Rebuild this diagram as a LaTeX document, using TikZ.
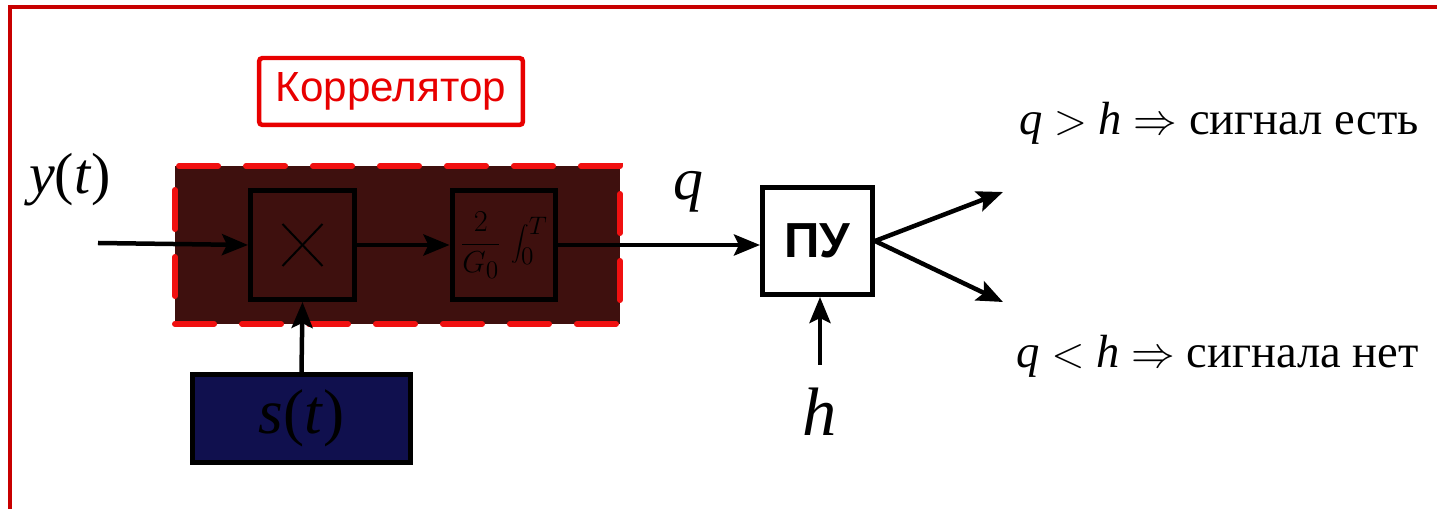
\documentclass[tikz,border=0pt]{standalone}
\usepackage{fontspec}
\setmainfont{Liberation Serif}
\setsansfont{Liberation Sans}
\definecolor{frred}{RGB}{200,0,0}
\definecolor{korred}{RGB}{232,0,0}
\definecolor{dashred}{RGB}{240,16,16}
\definecolor{corrfill}{RGB}{62,16,14}
\definecolor{refblue}{RGB}{16,16,78}
\usetikzlibrary{arrows.meta}

\begin{document}
\begin{tikzpicture}[x=0.02cm,y=-0.02cm,
  block/.style={draw,line width=0.1cm,minimum width=2.08cm,minimum height=2.18cm,inner sep=0pt},
  conn/.style={line width=0.09cm,-{Stealth[length=0.52cm,width=0.42cm,inset=0.1cm]}},
  bigtext/.style={font=\fontsize{26.5}{30}\selectfont}]
  \useasboundingbox (0,0) rectangle (1437,509);

  % Outer frame
  \draw[frred,line width=0.07cm] (10,509) -- (10,7) -- (1437,7);

  % Correlator
  \node[draw=korred,text=korred,line width=0.09cm,rounded corners=2pt,
    minimum width=5.28cm,minimum height=1.34cm,font=\sffamily\fontsize{24}{28}\selectfont] (korr) at (391,91.5) {Коррелятор};
  \node[draw=dashred,fill=corrfill,line width=0.12cm,dash pattern=on 0.78cm off 0.56cm,line cap=round,
    minimum width=8.9cm,minimum height=3.16cm] (corr) at (397.5,245) {};

  % Blocks
  \node[block] (mult) at (302.5,245) {};
  \draw[line width=0.04cm] ([shift={(-20,-21)}]mult.center) -- ([shift={(20,21)}]mult.center);
  \draw[line width=0.04cm] ([shift={(-20,21)}]mult.center) -- ([shift={(20,-21)}]mult.center);
  \node[block,font=\fontsize{19}{22}\selectfont] (integ) at (504,245) {$\displaystyle\frac{2}{G_0}\,\int_0^T$};
  \node[block,minimum width=2.2cm,minimum height=2.14cm,font=\sffamily\bfseries\fontsize{28}{32}\selectfont] (pu) at (817.5,241) {ПУ};
  \node[block,fill=refblue,minimum width=4.36cm,minimum height=1.76cm,font=\fontsize{36}{40}\selectfont] (sgen) at (301.5,418.5) {\textit{s}(\textit{t})};

  % Connectors
  \coordinate (yin) at (98,243);
  \coordinate (hin) at (820,365);
  \coordinate (yes) at (1003,192);
  \coordinate (no) at (1003,302);
  \draw[conn] (yin) -- (mult.west);
  \draw[conn] (mult.east) -- (integ.west);
  \draw[conn] (integ.east) -- (integ.east -| pu.west);
  \draw[conn] (sgen.north) -- (mult.south);
  \draw[conn] (hin) -- (hin |- pu.south);
  \draw[conn] (pu.east) -- (yes);
  \draw[conn] (pu.east) -- (no);

  % Labels
  \node[font=\fontsize{33}{38}\selectfont] (ylab) at (70,180) {\textit{y}(\textit{t})};
  \node[font=\fontsize{34}{38}\selectfont] (qlab) at (688,192) {\textit{q}};
  \node[font=\fontsize{39}{44}\selectfont] (hlab) at (820,412) {\textit{h}};
  \node[bigtext,anchor=base east] (yestext) at (1425,135) {\textit{q} $>$ \textit{h} $\Rightarrow$ сигнал есть};
  \node[bigtext,anchor=base east] (notext) at (1425,368) {\textit{q} $<$ \textit{h} $\Rightarrow$ сигнала нет};
\end{tikzpicture}
\end{document}
